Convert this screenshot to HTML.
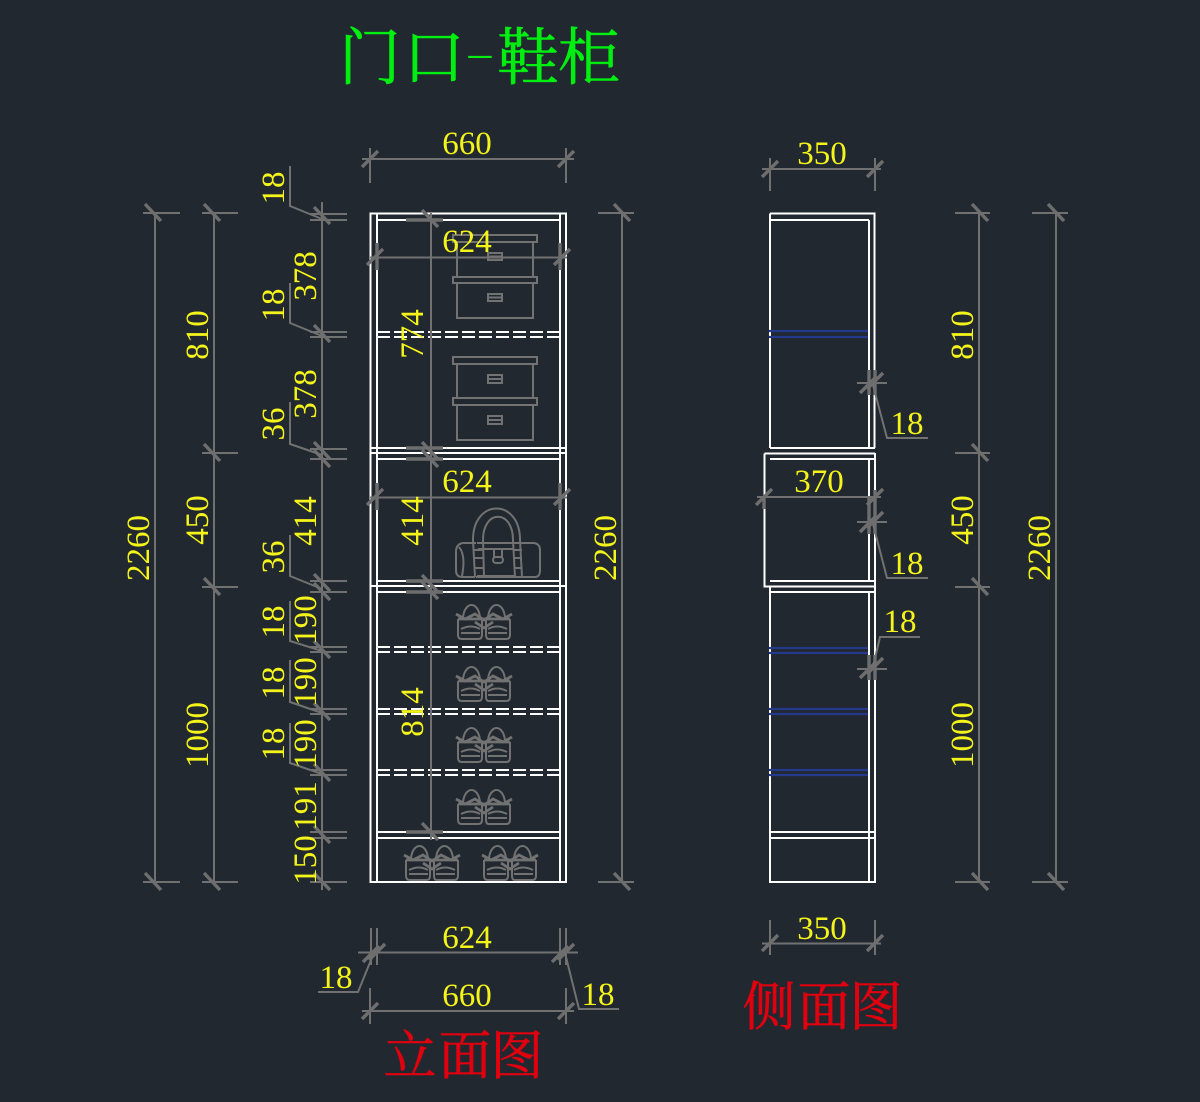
<!DOCTYPE html>
<html><head><meta charset="utf-8"><style>
html,body{margin:0;padding:0;background:#212830}
svg{display:block}
.w{stroke:#fff;stroke-width:2;fill:none}
.d{stroke:#fff;stroke-width:2;fill:none;stroke-dasharray:13 4}
.g{stroke:#717171;stroke-width:2;fill:none}
.t{stroke:#6e6e6e;stroke-width:3.4;fill:none}
.b{stroke:#25398a;stroke-width:2.2;fill:none}
.o{stroke:#727272;stroke-width:2;fill:none}
.n{font-family:"Liberation Serif",serif;font-size:33px;fill:#f4f41a;text-anchor:middle}
.c{font-family:"Noto Serif CJK SC","Liberation Serif",serif;text-anchor:middle}
</style></head><body>
<svg width="1200" height="1102" viewBox="0 0 1200 1102" xmlns="http://www.w3.org/2000/svg">
<defs>
<path id="tb" class="t" d="M-8-9L8 8"/>
<path id="tf" class="t" d="M-8 8L8-8"/>
<g id="shoe" class="o">
<path d="M1 17V33Q1 37 5 37H21Q25 37 25 33V17M29 17V33Q29 37 32 37H49Q53 37 53 33V17"/>
<path d="M4 27Q14 22 23 27M4 31H23M31 27Q40 22 50 27M31 31H50"/>
<path d="M6 15C8 -1 21 -1 23 15M31 15C33 -1 46 -1 48 15"/>
<path stroke-width="2.8" d="M-1 12L8 17 18 12 27 18 36 12 46 17 55 12M1 17H53M18 20L27 26 36 20"/>
</g>
</defs>
<rect width="1200" height="1102" fill="#212830"/>

<!-- titles -->
<g class="c" font-size="62" fill="#00ee10" stroke="#00ee10" stroke-width="0.6">
<text x="370" y="79">门</text><text x="434" y="79">口</text><text x="528" y="79">鞋</text><text x="589" y="79">柜</text>
</g>
<text transform="translate(480,64) scale(3.2,0.9)" text-anchor="middle" font-family="Liberation Sans,sans-serif" font-size="30" fill="#00ee10">-</text>
<g class="c" font-size="53" fill="#e0000f" stroke="#e0000f" stroke-width="0.6">
<text x="410" y="1074">立</text><text x="465" y="1074">面</text><text x="517" y="1074">图</text>
<text x="769" y="1025">侧</text><text x="824" y="1025">面</text><text x="876" y="1025">图</text>
</g>

<!-- front cabinet -->
<rect class="w" x="370.5" y="213.5" width="195.5" height="668.5"/>
<path class="w" d="M377 214V882M560 214V882"/>
<path class="w" d="M377 220H560M370 448H566M370 453H566M377 459H560M377 581H560M370 586H566M377 592H560M377 832H560M377 838H560"/>
<path class="d" d="M377 332H560M377 337H560M377 647H560M377 652H560M377 709H560M377 714H560M377 770H560M377 775H560"/>

<!-- boxes -->
<g class="o">
<rect x="453" y="235" width="84" height="7"/><path d="M457 242V277M533 242V277"/><rect x="488" y="253" width="14" height="7"/><path d="M488 256.500H502"/>
<rect x="453" y="277" width="84" height="6"/><rect x="457" y="283" width="76" height="35"/><rect x="488" y="294" width="14" height="7"/><path d="M488 297.500H502"/>
<rect x="453" y="357" width="84" height="7"/><path d="M457 364V398M533 364V398"/><rect x="488" y="375" width="14" height="8"/><path d="M488 379H502"/>
<rect x="453" y="398" width="84" height="7"/><rect x="457" y="405" width="76" height="35"/><rect x="488" y="416" width="14" height="8"/><path d="M488 420H502"/>
</g>

<!-- bag -->
<g class="o" stroke-width="2.2">
<path d="M475 577H462Q456 577 456 570V552Q456 544 463 543H476M476 577H535Q540 577 540 570V550Q540 544 534 543H521M459 547Q466 555 462 576"/>
<path d="M477 543H520M478 549H514M477 576H514"/>
<path d="M475 577L473 540C473 498 520 498 520 540L522 577M484 577L483 540C483 509 513 509 513 540L515 577"/>
<path d="M474 550H484M474 558H484M474 568H484M513 550H522M513 558H522M514 568H522"/>
<rect x="494" y="549" width="8" height="8"/><rect x="493" y="557" width="10" height="6" rx="3"/>
</g>

<!-- shoes -->
<use href="#shoe" x="457" y="602"/><use href="#shoe" x="457" y="664"/><use href="#shoe" x="457" y="725"/><use href="#shoe" x="457" y="787"/>
<use href="#shoe" x="405" y="843"/><use href="#shoe" x="483" y="843"/>

<!-- side cabinet -->
<path class="w" d="M770 213.500H874.500V448M770 213.500V448M770 220H869M869 220V448M770 448H875"/>
<path class="w" d="M764.500 453.500H875M764.500 453.500V586.500H875M875 453V586M770 459H875M869 459V581M770 581H875"/>
<path class="w" d="M770 586V882H875V586M770 592H875M869 592V882M770 832H875M770 838H875"/>
<path class="b" d="M769 331H868M769 337H868M769 648H868M769 653H868M769 709H868M769 714H868M769 770H868M769 775H868"/>

<!-- far-left dimensions -->
<path class="g" d="M155 213V882M214 213V882M143 213H180M143 882H180M202 213H238M202 453H238M202 587H238M202 882H238"/>
<use href="#tb" x="153" y="213"/><use href="#tb" x="153" y="882"/>
<use href="#tb" x="212" y="213"/><use href="#tb" x="212" y="453"/><use href="#tb" x="212" y="587"/><use href="#tb" x="212" y="882"/>

<!-- stacked left dimension -->
<path class="g" d="M322 202V890"/>
<path class="g" d="M310 214H347M310 220H347M310 332H347M310 337H347M310 449H347M310 459H347M310 581H347M310 592H347M310 647H347M310 652H347M310 709H347M310 714H347M310 770H347M310 775H347M310 832H347M310 838H347M310 882H347"/>
<use href="#tb" x="322" y="216"/><use href="#tb" x="322" y="334"/><use href="#tb" x="322" y="451"/><use href="#tb" x="322" y="459"/><use href="#tb" x="322" y="583"/><use href="#tb" x="322" y="592"/><use href="#tb" x="322" y="650"/><use href="#tb" x="322" y="712"/><use href="#tb" x="322" y="773"/><use href="#tb" x="322" y="835"/><use href="#tb" x="322" y="882"/>
<path class="g" d="M290 166V206L322 219M290 283V323L322 336M290 402V444L322 455M290 535V576L322 589M290 601V641L322 651M290 660V702L322 713M290 723V763L322 774"/>

<!-- centre vertical dimension -->
<path class="g" d="M431 213V840"/>
<path class="t" d="M406 220H443M406 448H443M406 459H443M406 581H443M406 592H443M406 832H443" stroke-width="2.4"/>
<use href="#tb" x="430" y="219"/><use href="#tb" x="430" y="451"/><use href="#tb" x="430" y="459"/><use href="#tb" x="430" y="584"/><use href="#tb" x="430" y="591"/><use href="#tb" x="430" y="832"/>

<!-- 624 inner dims -->
<path class="g" d="M370 257.500H567M370 497.500H567"/>
<path class="t" d="M377 243V270M560 243V270M377 483V510M560 483V510"/>
<use href="#tf" x="375" y="257"/><use href="#tf" x="562" y="257"/><use href="#tf" x="375" y="497"/><use href="#tf" x="562" y="497"/>

<!-- top 660 -->
<path class="g" d="M362 159H574M370 148V183M566 148V183"/>
<use href="#tf" x="370" y="159"/><use href="#tf" x="566" y="159"/>

<!-- right 2260 -->
<path class="g" d="M622 213V882M598 213H634M598 882H634"/>
<use href="#tb" x="622" y="213"/><use href="#tb" x="622" y="882"/>

<!-- bottom dims -->
<path class="g" d="M358 952.500H578M371 928V965M377 928V965M560 928V965M566 928V965"/>
<use href="#tf" x="371" y="954"/><use href="#tf" x="377" y="952"/><use href="#tf" x="560" y="954"/><use href="#tf" x="566" y="952"/>
<path class="g" d="M373 955L358 992H318M565 953L579 1009H619"/>
<path class="g" d="M362 1011H574M370 988V1024M566 988V1024"/>
<use href="#tf" x="370" y="1011"/><use href="#tf" x="566" y="1011"/>

<!-- side dims -->
<path class="g" d="M762 169H881M770 158V191M875 158V191"/>
<use href="#tf" x="770" y="169"/><use href="#tf" x="875" y="169"/>
<path class="g" d="M762 943.500H881M770 920V955M875 920V955"/>
<use href="#tf" x="770" y="943"/><use href="#tf" x="875" y="943"/>
<path class="g" d="M757 497H881"/>
<path class="t" d="M764 497V509M875 490V510M869 497V510"/>
<use href="#tf" x="764" y="497"/><use href="#tf" x="875" y="497"/>
<path class="g" d="M857 383H887M857 522H887M857 669H887"/>
<path class="t" d="M869 370V395M875 370V395M869 510V534M875 510V534M869 655V680M875 655V680"/>
<use href="#tf" x="868" y="385"/><use href="#tf" x="875" y="381"/><use href="#tf" x="868" y="524"/><use href="#tf" x="875" y="520"/><use href="#tf" x="868" y="670"/><use href="#tf" x="875" y="666"/>
<path class="g" d="M873 385L887 438H928M873 524L887 578H928M873 667L880 637H920"/>

<!-- right dims -->
<path class="g" d="M979 213V882M955 213H990M955 453H990M955 587H990M955 882H990"/>
<use href="#tb" x="980" y="213"/><use href="#tb" x="980" y="453"/><use href="#tb" x="980" y="587"/><use href="#tb" x="980" y="882"/>
<path class="g" d="M1056 213V882M1032 213H1068M1032 882H1068"/>
<use href="#tb" x="1056" y="213"/><use href="#tb" x="1056" y="882"/>

<!-- horizontal numbers -->
<g class="n">
<text x="467" y="154">660</text><text x="467" y="252">624</text><text x="467" y="492">624</text>
<text x="467" y="948">624</text><text x="467" y="1006">660</text>
<text x="336" y="988">18</text><text x="598" y="1005">18</text>
<text x="822" y="164">350</text><text x="819" y="492">370</text><text x="822" y="939">350</text>
<text x="907" y="434">18</text><text x="907" y="574">18</text><text x="900" y="632">18</text>
</g>

<!-- rotated numbers -->
<g class="n">
<text transform="translate(149,548) rotate(-90)">2260</text>
<text transform="translate(208,335) rotate(-90)">810</text>
<text transform="translate(208,520) rotate(-90)">450</text>
<text transform="translate(208,735) rotate(-90)">1000</text>
<text transform="translate(284,188) rotate(-90)">18</text>
<text transform="translate(284,305) rotate(-90)">18</text>
<text transform="translate(284,424) rotate(-90)">36</text>
<text transform="translate(284,557) rotate(-90)">36</text>
<text transform="translate(284,622) rotate(-90)">18</text>
<text transform="translate(284,683) rotate(-90)">18</text>
<text transform="translate(284,744) rotate(-90)">18</text>
<text transform="translate(316,276) rotate(-90)">378</text>
<text transform="translate(316,394) rotate(-90)">378</text>
<text transform="translate(316,521) rotate(-90)">414</text>
<text transform="translate(316,620) rotate(-90)">190</text>
<text transform="translate(316,682) rotate(-90)">190</text>
<text transform="translate(316,744) rotate(-90)">190</text>
<text transform="translate(316,806) rotate(-90)">191</text>
<text transform="translate(316,860) rotate(-90)">150</text>
<text transform="translate(423,334) rotate(-90)">774</text>
<text transform="translate(423,521) rotate(-90)">414</text>
<text transform="translate(423,712) rotate(-90)">814</text>
<text transform="translate(616,548) rotate(-90)">2260</text>
<text transform="translate(973,335) rotate(-90)">810</text>
<text transform="translate(973,520) rotate(-90)">450</text>
<text transform="translate(973,735) rotate(-90)">1000</text>
<text transform="translate(1050,548) rotate(-90)">2260</text>
</g>
</svg>
</body></html>
